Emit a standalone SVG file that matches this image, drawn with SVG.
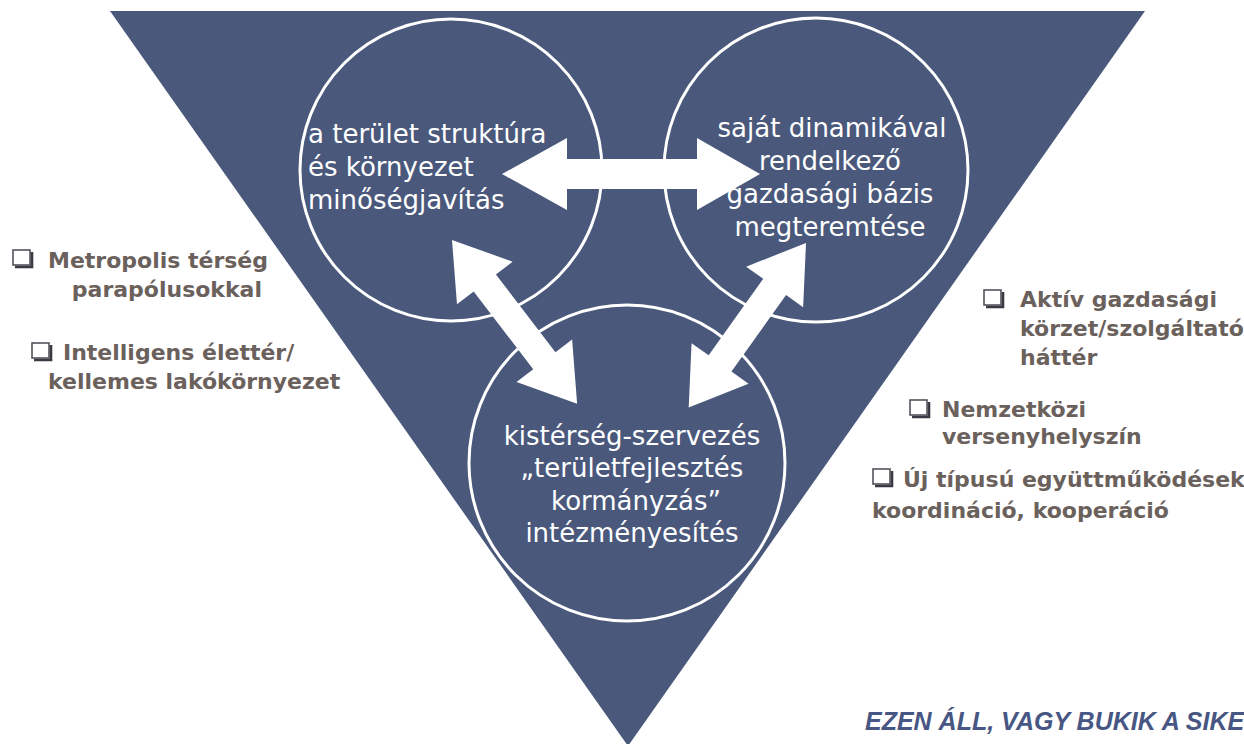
<svg xmlns="http://www.w3.org/2000/svg" width="1244" height="744" viewBox="0 0 1244 744">
  <defs>
    <style>
      .bg { fill: #ffffff; }
      .tri { fill: #4a587c; }
      .ring { fill: none; stroke: #ffffff; stroke-width: 3; }
      .arrow { fill: #ffffff; }
      .ctext { font-family: "DejaVu Sans", "Liberation Sans", sans-serif; font-size: 26px; fill: #ffffff; }
      .side { font-family: "DejaVu Sans", "Liberation Sans", sans-serif; font-size: 22px; font-weight: bold; fill: #6b615c; }
      .box { fill: #ffffff; stroke: #55525c; stroke-width: 1.6; }
      .boxshade { fill: none; stroke: #3c3944; stroke-width: 2.6; }
      .motto { font-family: "Liberation Sans", Arial, sans-serif; font-size: 25px; font-weight: bold; font-style: italic; fill: #475683; }
    </style>
    <!-- shaded checkbox bullet -->
    <symbol id="chk" overflow="visible">
      <rect class="box" x="0" y="0" width="17" height="15"/>
      <polyline class="boxshade" points="2,17 19,17 19,2"/>
    </symbol>
  </defs>

  <rect class="bg" x="0" y="0" width="1244" height="744"/>

  <!-- inverted triangle -->
  <g id="triangle">
    <polygon class="tri" points="110,11 1145,11 628,746"/>
  </g>

  <!-- three circles -->
  <g id="node-structure">
    <circle class="ring" cx="451" cy="170" r="151"/>
    <text class="ctext" x="308" y="143">a terület struktúra</text>
    <text class="ctext" x="308" y="176">és környezet</text>
    <text class="ctext" x="308" y="209">minőségjavítás</text>
  </g>

  <g id="node-economy">
    <circle class="ring" cx="816" cy="170" r="152"/>
    <text class="ctext" x="832" y="137" text-anchor="middle">saját dinamikával</text>
    <text class="ctext" x="830" y="170" text-anchor="middle">rendelkező</text>
    <text class="ctext" x="830" y="203" text-anchor="middle">gazdasági bázis</text>
    <text class="ctext" x="830" y="236" text-anchor="middle">megteremtése</text>
  </g>

  <g id="node-governance">
    <circle class="ring" cx="627" cy="463" r="158"/>
    <text class="ctext" x="632" y="445" text-anchor="middle">kistérség-szervezés</text>
    <text class="ctext" x="632" y="477" text-anchor="middle">„területfejlesztés</text>
    <text class="ctext" x="636" y="510" text-anchor="middle">kormányzás”</text>
    <text class="ctext" x="632" y="542" text-anchor="middle">intézményesítés</text>
  </g>

  <!-- connectors: white double-headed block arrows -->
  <g id="connectors">
    <!-- horizontal: structure <-> economy -->
    <path class="arrow" d="M502,174 L567,138 L567,159 L697,159 L697,138 L760,174 L697,210 L697,189 L567,189 L567,210 Z"/>
    <!-- structure <-> governance -->
    <path class="arrow" transform="translate(452,240) rotate(52.6)" d="M0,0 L54,-35 L54,-14 L152,-14 L152,-35 L206,0 L152,35 L152,14 L54,14 L54,35 Z"/>
    <!-- economy <-> governance -->
    <path class="arrow" transform="translate(806,243) rotate(125.5)" d="M0,0 L54,-35 L54,-14 L148,-14 L148,-35 L202,0 L148,35 L148,14 L54,14 L54,35 Z"/>
  </g>

  <!-- left list -->
  <g id="item-metropolis">
    <use href="#chk" x="13" y="250"/>
    <text class="side" x="48" y="268">Metropolis térség</text>
    <text class="side" x="262" y="297" text-anchor="end">parapólusokkal</text>
  </g>
  <g id="item-intelligens">
    <use href="#chk" x="32" y="343"/>
    <text class="side" x="63" y="360">Intelligens élettér/</text>
    <text class="side" x="48" y="389">kellemes lakókörnyezet</text>
  </g>

  <!-- right list -->
  <g id="item-aktiv">
    <use href="#chk" x="984" y="290"/>
    <text class="side" x="1020" y="307">Aktív gazdasági</text>
    <text class="side" x="1020" y="336">körzet/szolgáltató</text>
    <text class="side" x="1020" y="365">háttér</text>
  </g>
  <g id="item-nemzetkozi">
    <use href="#chk" x="910" y="400"/>
    <text class="side" x="942" y="417">Nemzetközi</text>
    <text class="side" x="942" y="444">versenyhelyszín</text>
  </g>
  <g id="item-uj">
    <use href="#chk" x="873" y="469"/>
    <text class="side" x="903" y="487">Új típusú együttműködések</text>
    <text class="side" x="872" y="518">koordináció, kooperáció</text>
  </g>

  <g id="motto">
    <text class="motto" x="865" y="730">EZEN ÁLL, VAGY BUKIK A SIKE</text>
  </g>
</svg>
